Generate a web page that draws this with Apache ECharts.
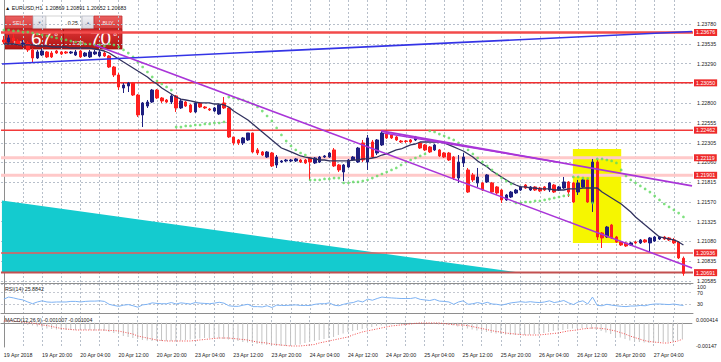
<!DOCTYPE html>
<html><head><meta charset="utf-8">
<script src="https://cdn.jsdelivr.net/npm/echarts@6/dist/echarts.min.js"></script>
<style>html,body{margin:0;padding:0;background:#fff}#c{width:721px;height:362px}</style>
</head><body><div id="c"></div>
<script>
// ---------- DATA ----------
const timeLabels = ['19 Apr 2018','19 Apr 20:00','20 Apr 04:00','20 Apr 12:00','20 Apr 20:00','23 Apr 04:00','23 Apr 12:00','23 Apr 20:00','24 Apr 04:00','24 Apr 12:00','24 Apr 20:00','25 Apr 04:00','25 Apr 12:00','25 Apr 20:00','26 Apr 04:00','26 Apr 12:00','26 Apr 20:00','27 Apr 04:00'];
const timeLabelBars = [0,8,16,24,32,40,48,56,64,72,80,88,96,104,112,120,128,136];
const gridBars = [0,4,8,12,16,20,24,28,32,36,40,44,48,52,56,60,64,68,72,76,80,84,88,92,96,100,104,108,112,116,120,124,128,132,136,140];
const priceGridTicks = [1.23780,1.23535,1.23290,1.23050,1.22800,1.22555,1.22305,1.22060,1.21815,1.21570,1.21325,1.21080,1.20835,1.20585];
const priceLabelTicks = [1.23780,1.23535,1.23290,1.22800,1.22555,1.22305,1.22060,1.21815,1.21570,1.21325,1.21080,1.20835,1.20585];
const rsiTicks = [100,70,30,0];
const macdTicks = [0.000414,-0.001471];

// hourly candles [open, close, low, high]
const candles = [
[1.23583,1.23558,1.23533,1.23633],[1.23558,1.23608,1.23533,1.23645],[1.23608,1.23570,1.23545,1.23657],[1.23570,1.23533,1.23508,1.23595],[1.23533,1.23545,1.23496,1.23583],
[1.23545,1.23459,1.23434,1.23570],[1.23459,1.23359,1.23297,1.23483],[1.23359,1.23434,1.23347,1.23459],[1.23396,1.23446,1.23384,1.23471],[1.23434,1.23372,1.23359,1.23446],
[1.23421,1.23372,1.23359,1.23446],[1.23446,1.23421,1.23409,1.23459],[1.23434,1.23409,1.23396,1.23446],[1.23434,1.23421,1.23409,1.23446],[1.23421,1.23434,1.23409,1.23446],
[1.23396,1.23434,1.23384,1.23459],[1.23446,1.23372,1.23359,1.23459],[1.23384,1.23421,1.23372,1.23434],[1.23372,1.23434,1.23359,1.23459],[1.23409,1.23434,1.23396,1.23459],
[1.23384,1.23434,1.23372,1.23459],[1.23421,1.23384,1.23372,1.23446],[1.23384,1.23247,1.23235,1.23396],[1.23247,1.23148,1.23123,1.23260],[1.23148,1.22999,1.22961,1.23173],
[1.22986,1.23023,1.22924,1.23048],[1.23011,1.23048,1.22936,1.23061],[1.23048,1.22899,1.22887,1.23061],[1.22899,1.22651,1.22626,1.22912],[1.22651,1.22800,1.22501,1.22812],
[1.22762,1.22812,1.22738,1.22837],[1.22812,1.22961,1.22800,1.22974],[1.22961,1.22862,1.22849,1.22974],[1.22862,1.22825,1.22800,1.22874],[1.22837,1.22812,1.22800,1.22849],
[1.22812,1.22887,1.22787,1.22912],[1.22887,1.22738,1.22688,1.22899],[1.22738,1.22825,1.22725,1.22849],[1.22812,1.22762,1.22750,1.22825],[1.22775,1.22688,1.22675,1.22787],
[1.22688,1.22800,1.22675,1.22812],[1.22800,1.22750,1.22738,1.22812],[1.22750,1.22738,1.22725,1.22762],[1.22725,1.22713,1.22700,1.22738],[1.22700,1.22738,1.22688,1.22750],
[1.22663,1.22775,1.22651,1.22787],[1.22800,1.22738,1.22725,1.22874],[1.22738,1.22377,1.22365,1.22750],[1.22377,1.22303,1.22278,1.22377],[1.22340,1.22303,1.22278,1.22352],
[1.22303,1.22365,1.22278,1.22377],[1.22340,1.22427,1.22327,1.22427],[1.22427,1.22191,1.22178,1.22427],[1.22216,1.22178,1.22153,1.22240],[1.22191,1.22153,1.22141,1.22203],
[1.22128,1.22191,1.22116,1.22203],[1.22178,1.22017,1.22004,1.22191],[1.22029,1.22128,1.21992,1.22153],[1.22066,1.22079,1.22054,1.22091],[1.22079,1.22091,1.22066,1.22104],
[1.22079,1.22091,1.22066,1.22104],[1.22079,1.22104,1.22066,1.22116],[1.22091,1.22066,1.22054,1.22104],[1.22091,1.22054,1.22041,1.22104],[1.22116,1.22066,1.21843,1.22128],
[1.22054,1.22116,1.22041,1.22128],[1.22066,1.22128,1.22054,1.22141],[1.22128,1.22141,1.22116,1.22153],[1.22128,1.22178,1.22116,1.22191],[1.22216,1.22017,1.22004,1.22240],
[1.22029,1.21967,1.21942,1.22041],[1.21942,1.22029,1.21830,1.22041],[1.22004,1.22091,1.21992,1.22104],[1.22091,1.22128,1.22079,1.22141],[1.22066,1.22240,1.22054,1.22253],
[1.22303,1.22091,1.22066,1.22340],[1.22066,1.22365,1.21967,1.22402],[1.22315,1.22128,1.22116,1.22340],[1.22178,1.22340,1.22153,1.22352],[1.22278,1.22427,1.22265,1.22452],
[1.22427,1.22365,1.22352,1.22452],[1.22402,1.22365,1.22352,1.22415],[1.22377,1.22340,1.22327,1.22390],[1.22327,1.22315,1.22303,1.22340],[1.22327,1.22321,1.22303,1.22340],
[1.22340,1.22315,1.22303,1.22352],[1.22340,1.22377,1.22327,1.22390],[1.22303,1.22240,1.22228,1.22315],[1.22278,1.22216,1.22203,1.22290],[1.22253,1.22191,1.22178,1.22265],
[1.22216,1.22278,1.22203,1.22290],[1.22216,1.22141,1.22128,1.22228],[1.22178,1.22128,1.22116,1.22191],[1.22178,1.22091,1.22079,1.22191],[1.22128,1.21867,1.21843,1.22141],
[1.21867,1.22066,1.21805,1.22153],[1.22054,1.22128,1.22004,1.22178],[1.21967,1.21693,1.21681,1.21992],[1.21905,1.21843,1.21818,1.21930],[1.21806,1.21880,1.21756,1.21992],
[1.21806,1.21718,1.21706,1.21818],[1.21818,1.21905,1.21805,1.21917],[1.21806,1.21693,1.21681,1.21818],[1.21756,1.21681,1.21656,1.21768],[1.21718,1.21594,1.21557,1.21731],
[1.21594,1.21656,1.21582,1.21669],[1.21631,1.21693,1.21619,1.21706],[1.21681,1.21718,1.21669,1.21731],[1.21718,1.21756,1.21706,1.21768],[1.21780,1.21743,1.21731,1.21793],
[1.21718,1.21756,1.21706,1.21768],[1.21756,1.21718,1.21706,1.21768],[1.21743,1.21706,1.21693,1.21756],[1.21756,1.21718,1.21706,1.21768],[1.21718,1.21806,1.21693,1.21818],
[1.21780,1.21693,1.21681,1.21793],[1.21718,1.21756,1.21706,1.21768],[1.21743,1.21818,1.21731,1.21880],[1.21818,1.21693,1.21631,1.21830],[1.21806,1.21569,1.21557,1.21818],
[1.21693,1.21806,1.21656,1.21843],[1.21756,1.21843,1.21743,1.21855],[1.21843,1.21569,1.21557,1.21855],[1.21557,1.22066,1.21445,1.22104],[1.22066,1.21134,1.21097,1.22091],
[1.21184,1.21122,1.20997,1.21196],[1.21134,1.21258,1.21122,1.21271],[1.21283,1.21122,1.21109,1.21296],[1.21134,1.21072,1.21060,1.21147],[1.21072,1.21035,1.21022,1.21084],
[1.21060,1.21022,1.21010,1.21072],[1.21035,1.21060,1.21022,1.21072],[1.21072,1.21060,1.21047,1.21084],[1.21060,1.21097,1.21047,1.21109],[1.21097,1.21072,1.21060,1.21109],
[1.21060,1.21122,1.20948,1.21134],[1.21084,1.21134,1.21072,1.21147],[1.21109,1.21134,1.21097,1.21147],[1.21134,1.21109,1.21097,1.21147],[1.21122,1.21097,1.21084,1.21134],
[1.21097,1.21060,1.21047,1.21122],[1.21072,1.20873,1.20860,1.21084],[1.20869,1.20683,1.20652,1.20891]
];
const ma = [
1.23533,1.23533,1.23533,1.23521,1.23521,1.23521,1.23521,1.23508,1.23508,1.23508,1.23496,1.23496,1.23496,1.23496,1.23483,1.23483,1.23483,
1.23483,1.23483,1.23471,1.23459,1.23446,1.23421,1.23384,1.23347,1.23309,1.23272,
1.23235,1.23197,1.23160,1.23123,1.23073,1.23036,1.22986,1.22949,1.22912,1.22874,
1.22849,1.22837,1.22825,1.22812,1.22800,1.22800,1.22800,1.22787,1.22787,1.22775,
1.22750,1.22700,1.22663,1.22626,1.22588,1.22539,1.22489,1.22439,1.22390,1.22340,
1.22290,1.22240,1.22216,1.22191,1.22166,1.22141,1.22128,1.22116,1.22104,1.22091,
1.22091,1.22079,1.22079,1.22079,1.22079,1.22079,1.22091,1.22091,1.22104,1.22104,
1.22116,1.22128,1.22153,1.22166,1.22191,1.22216,1.22228,1.22253,1.22278,1.22290,
1.22315,1.22315,1.22315,1.22315,1.22315,1.22303,1.22278,1.22253,1.22228,1.22203,
1.22166,1.22128,1.22079,1.22041,1.22004,1.21955,1.21917,1.21880,1.21843,1.21806,
1.21780,1.21756,1.21756,1.21743,1.21743,1.21731,1.21731,1.21731,1.21718,1.21718,
1.21718,1.21731,1.21731,1.21731,1.21743,1.21743,1.21743,1.21743,1.21693,1.21656,
1.21619,1.21582,1.21544,1.21495,1.21445,1.21383,1.21333,1.21283,1.21234,1.21184,
1.21134,1.21122,1.21109,1.21097,1.21072,1.21035
];
const sar = [
1.23707,1.23707,1.23695,1.23695,1.23682,1.23682,
1.23670,1.23657,1.23645,1.23633,1.23620,1.23608,1.23595,1.23583,1.23570,1.23558,1.23545,1.23533,1.23533,1.23521,1.23521,1.23508,
1.23533,1.23521,1.23496,1.23459,1.23421,1.23372,1.23309,1.23247,1.23185,1.23123,1.23073,1.23036,1.22999,1.22961,
1.22501,1.22501,1.22514,1.22514,1.22526,1.22526,1.22539,1.22539,1.22551,1.22551,1.22564,
1.22874,1.22862,1.22849,1.22837,1.22812,1.22787,1.22750,1.22700,1.22638,1.22576,1.22489,1.22402,1.22327,1.22265,1.22216,1.22178,1.22153,
1.21843,1.21843,1.21843,1.21855,1.21855,1.21867,1.21867,
1.21806,1.21806,1.21818,1.21818,1.21830,1.21843,1.21867,1.21892,1.21917,1.21942,1.21967,1.21992,1.22029,1.22066,1.22091,1.22116,1.22141,1.22166,
1.22452,1.22439,1.22414,1.22390,1.22365,1.22340,1.22303,1.22265,1.22216,1.22166,1.22116,1.22066,1.22017,1.21967,1.21917,1.21867,1.21830,1.21793,
1.21557,1.21557,1.21569,1.21569,1.21582,1.21582,1.21594,1.21606,1.21619,1.21631,1.21644,1.21656,
1.21880,1.21880,1.21867,1.21861,
1.21557,
1.22104,1.22104,1.22091,1.22079,1.22054,1.21967,1.21892,1.21843,1.21806,1.21768,1.21731,1.21693,1.21644,1.21594,1.21544,1.21507,1.21470,1.21432,1.21383
];
const rsi = [
48,55,52,48,45,38,32,38,42,38, 37,38,38,38,40,40,38,40,41,41,
42,40,30,26,23,27,29,25,20,28, 30,35,33,32,32,36,31,35,33,31,
36,34,33,32,34,37,34,25,23,23, 27,30,22,22,21,25,19,27,26,26,
27,28,26,26,26,30,32,32,35,27, 25,30,34,36,42,38,48,44,50,55,
53,52,51,50,50,50,53,47,45,43, 47,41,40,38,30,38,42,30,32,36,
32,37,31,30,27,31,35,37,39,37, 39,37,36,38,42,36,39,43,35,29,
38,42,31,55,26,25,30,27,25,23, 22,24,24,26,25,29,31,31,30,29,
31,28,25.8842
];
const macdMain = [
0.000080,0.000049,0.000019,-0.000012,-0.000072,-0.000133,-0.000164,-0.000224,-0.000285,-0.000346,
-0.000376,-0.000407,-0.000437,-0.000437,-0.000437,-0.000437,-0.000437,-0.000437,-0.000437,-0.000468,
-0.000468,-0.000498,-0.000559,-0.000620,-0.000680,-0.000802,-0.000863,-0.000924,-0.000984,-0.001045,
-0.001076,-0.001106,-0.001106,-0.001106,-0.001106,-0.001106,-0.001106,-0.001076,-0.001045,-0.001015,
-0.000984,-0.000954,-0.000924,-0.000924,-0.000924,-0.000954,-0.000984,-0.001015,-0.001045,-0.001106,
-0.001167,-0.001197,-0.001228,-0.001288,-0.001319,-0.001349,-0.001380,-0.001410,-0.001410,-0.001410,
-0.001380,-0.001349,-0.001319,-0.001228,-0.001167,-0.001106,-0.001045,-0.000984,-0.000924,-0.000863,
-0.000741,-0.000650,-0.000559,-0.000498,-0.000437,-0.000376,-0.000316,-0.000255,-0.000194,-0.000164,
-0.000133,-0.000103,-0.000072,-0.000042,-0.000012,-0.000012,-0.000012,-0.000012,-0.000012,-0.000042,
-0.000072,-0.000103,-0.000133,-0.000133,-0.000164,-0.000224,-0.000285,-0.000346,-0.000407,-0.000468,
-0.000528,-0.000559,-0.000620,-0.000650,-0.000680,-0.000711,-0.000741,-0.000741,-0.000741,-0.000741,
-0.000711,-0.000680,-0.000650,-0.000620,-0.000559,-0.000498,-0.000468,-0.000437,-0.000376,-0.000346,
-0.000316,-0.000316,-0.000346,-0.000376,-0.000437,-0.000498,-0.000589,-0.000680,-0.000802,-0.000893,
-0.000984,-0.001076,-0.001136,-0.001167,-0.001197,-0.001228,-0.001228,-0.001197,-0.001167,-0.001167,
-0.001106,-0.001045,-0.001007
];
const macdSignal = [
0.000110,0.000110,0.000110,0.000080,0.000049,0.000019,-0.000012,-0.000072,-0.000133,-0.000164,
-0.000224,-0.000285,-0.000346,-0.000376,-0.000407,-0.000437,-0.000437,-0.000437,-0.000437,-0.000437,
-0.000437,-0.000437,-0.000468,-0.000468,-0.000498,-0.000559,-0.000620,-0.000680,-0.000802,-0.000863,
-0.000924,-0.000984,-0.001045,-0.001076,-0.001106,-0.001106,-0.001106,-0.001106,-0.001106,-0.001106,
-0.001076,-0.001045,-0.001015,-0.000984,-0.000954,-0.000924,-0.000924,-0.000924,-0.000954,-0.000984,
-0.001015,-0.001045,-0.001106,-0.001167,-0.001197,-0.001228,-0.001288,-0.001319,-0.001349,-0.001380,
-0.001410,-0.001410,-0.001410,-0.001380,-0.001349,-0.001319,-0.001228,-0.001167,-0.001106,-0.001045,
-0.000984,-0.000924,-0.000863,-0.000741,-0.000650,-0.000559,-0.000498,-0.000437,-0.000376,-0.000316,
-0.000255,-0.000194,-0.000164,-0.000133,-0.000103,-0.000072,-0.000042,-0.000012,-0.000012,-0.000012,
-0.000012,-0.000012,-0.000042,-0.000072,-0.000103,-0.000133,-0.000133,-0.000164,-0.000224,-0.000285,
-0.000346,-0.000407,-0.000468,-0.000528,-0.000559,-0.000620,-0.000650,-0.000680,-0.000711,-0.000741,
-0.000741,-0.000741,-0.000741,-0.000711,-0.000680,-0.000650,-0.000620,-0.000559,-0.000498,-0.000468,
-0.000437,-0.000376,-0.000346,-0.000316,-0.000316,-0.000346,-0.000376,-0.000437,-0.000498,-0.000589,
-0.000680,-0.000802,-0.000893,-0.000984,-0.001076,-0.001136,-0.001167,-0.001197,-0.001228,-0.001228,
-0.001167,-0.001106,-0.001004
];
// horizontal price levels
const hLinePrices = [1.23676,1.23050,1.22462,1.22119,1.21901,1.20936,1.20691];
// trend lines / objects: [bar, price]
const blueLine = [[-0.4,1.23284],[143.8,1.23688]];
const purpleLine1 = [[19.0,1.23521],[143.8,1.20749]];
const purpleLine2 = [[78.8,1.22452],[143.8,1.21768]];
const purpleLine3 = [[79.4,1.22427],[116.2,1.22060]];
const yellowBoxBars = [118.9,129.0];
const yellowBoxPrices = [1.21060,1.22228];
const cyanTriangle = [[-0.4,1.21588],[-0.4,1.20691],[107.8,1.20691]];

// ---------- CHART ----------
const FONT = 'Liberation Sans';
const FS = 5.3;
const X_MIN = -0.6, X_MAX = 144;
const gridLine = {show:true, lineStyle:{color:'#b7bfca', width:1, type:[2,2]}};
const frame = {show:true, lineStyle:{color:'#8e8e8e', width:1}};
const hLineStyles = [
  {color:'#f24b4b', width:2.5},
  {color:'#f23030', width:1.5},
  {color:'#f23a3a', width:1.5},
  {color:'#ffc9c9', width:3},
  {color:'#ffc9c9', width:3},
  {color:'#e85a5a', width:1.5},
  {color:'#c25050', width:2}
];
function xAx(gi, labels){
  return {type:'value', gridIndex:gi, min:X_MIN, max:X_MAX,
    axisLine:frame,
    axisTick:{show:false, customValues:gridBars},
    axisLabel:{show:labels, customValues:timeLabelBars, align:'left', margin:5, fontSize:FS, color:'#222', fontFamily:FONT,
      formatter:v=>timeLabels[timeLabelBars.indexOf(Math.round(v))]},
    splitLine:gridLine};
}
function poly(points, color, z){
  return {type:'custom', xAxisIndex:0, yAxisIndex:0, z:z, silent:true, clip:true,
    data:[points[0]],
    renderItem:(params, api)=>({type:'polygon', shape:{points:points.map(p=>api.coord(p))}, style:{fill:color}})};
}
function tline(pts, color, w){
  return {type:'line', xAxisIndex:0, yAxisIndex:0, data:pts, symbol:'none', silent:true, z:6,
    lineStyle:{color:color, width:w}};
}
const hLineSeries = hLinePrices.map((p,k)=>({
  type:'line', xAxisIndex:0, yAxisIndex:0, z:2, silent:true, symbol:'none', clip:false,
  data:[[X_MIN,p],[X_MAX,p]], lineStyle:hLineStyles[k],
  endLabel:{show:true, distance:1, formatter:()=>p.toFixed(5), backgroundColor:'#ee2b2b', color:'#ffffff',
    fontSize:FS, padding:[1,2,1,2], fontFamily:FONT}
}));
const yb = [[yellowBoxBars[0],yellowBoxPrices[0]],[yellowBoxBars[1],yellowBoxPrices[0]],[yellowBoxBars[1],yellowBoxPrices[1]],[yellowBoxBars[0],yellowBoxPrices[1]]];

const gradRed = new echarts.graphic.LinearGradient(0,0,0,1,[{offset:0,color:'#dc3434'},{offset:1,color:'#b01616'}]);
const gradBtn = new echarts.graphic.LinearGradient(0,0,0,1,[{offset:0,color:'#ea6060'},{offset:1,color:'#d63c3c'}]);
const gradGray = new echarts.graphic.LinearGradient(0,0,0,1,[{offset:0,color:'#f2f2f6'},{offset:1,color:'#d4d6de'}]);
const lab = {fontSize:FS, color:'#222', fontFamily:FONT};

const option = {
  animation:false,
  backgroundColor:'#ffffff',
  textStyle:{fontFamily:FONT},
  grid:[
    {left:1, right:28, top:0, height:283},
    {left:1, right:28, top:284, height:29},
    {left:1, right:28, top:316, height:31}
  ],
  xAxis:[xAx(0,false), xAx(1,false), xAx(2,true)],
  yAxis:[
    {type:'value', gridIndex:0, position:'right', min:1.20562, max:1.24080,
      axisLine:frame, axisTick:{show:false, customValues:priceGridTicks},
      axisLabel:{customValues:priceLabelTicks, formatter:v=>v.toFixed(5), fontSize:FS, color:'#222', margin:4, fontFamily:FONT},
      splitLine:gridLine},
    {type:'value', gridIndex:1, position:'right', min:0, max:100,
      axisLine:frame, axisTick:{show:false, customValues:rsiTicks},
      axisLabel:{customValues:rsiTicks, margin:4, fontSize:FS, color:'#222', fontFamily:FONT,
        formatter:v=>v===100?'{t|100}':(v===0?'{b|0}':String(v)),
        rich:{t:Object.assign({padding:[6,0,0,0]},lab), b:Object.assign({padding:[0,0,10,0]},lab)}},
      splitLine:{show:true, lineStyle:{color:'#c4c8d0', width:1, type:[2,2]}}},
    {type:'value', gridIndex:2, position:'right', min:-0.001471, max:0.000414,
      axisLine:frame, axisTick:{show:false, customValues:macdTicks},
      axisLabel:{customValues:macdTicks, margin:4, fontSize:FS, color:'#222', fontFamily:FONT,
        formatter:v=>(v>0?'{t|'+v.toFixed(6)+'}':'{b|'+v.toFixed(5)+'}'),
        rich:{t:Object.assign({padding:[8,0,0,0]},lab), b:Object.assign({padding:[0,0,3,0]},lab)}},
      splitLine:{show:false}}
  ],
  series:[
    poly(cyanTriangle, '#14cbcf', 1),
    poly(yb, '#f6f600', 1),
    ...hLineSeries,
    {type:'candlestick', xAxisIndex:0, yAxisIndex:0, z:3, silent:true, barWidth:3,
      data:candles.map((c,i)=>[i,c[0],c[1],c[2],c[3]]), encode:{x:0, y:[1,2,3,4]},
      itemStyle:{color:'#1f1f80', color0:'#ff1f1f', borderColor:'#1f1f80', borderColor0:'#ff1f1f', borderWidth:1}},
    {type:'line', xAxisIndex:0, yAxisIndex:0, z:4, silent:true, symbol:'none',
      data:ma.map((v,i)=>[i,v]), lineStyle:{color:'#32325f', width:1.3}},
    {type:'scatter', xAxisIndex:0, yAxisIndex:0, z:4, silent:true, symbol:'circle', symbolSize:2.7,
      data:sar.map((v,i)=>[i,v]), itemStyle:{color:'#5fda5f'}},
    tline(blueLine, '#3434e6', 1.6),
    tline(purpleLine1, '#a935d8', 1.6),
    tline(purpleLine2, '#a935d8', 1.8),
    tline(purpleLine3, '#a935d8', 1.4),
    {type:'line', xAxisIndex:1, yAxisIndex:1, symbol:'none', silent:true,
      data:rsi.map((v,i)=>[i,v]), lineStyle:{color:'#7db2f3', width:1}},
    {type:'bar', xAxisIndex:2, yAxisIndex:2, silent:true, barWidth:1,
      data:macdMain.map((v,i)=>[i,v]), itemStyle:{color:'#c3c3c3'}},
    {type:'line', xAxisIndex:2, yAxisIndex:2, symbol:'none', silent:true, z:3,
      data:macdSignal.map((v,i)=>[i,v]), lineStyle:{color:'#f04a4a', width:1, type:[1,1.5]}}
  ],
  graphic:[
    {type:'text', x:5, y:5, z:50, style:{text:'\u25B2 EURUSD,H1  1.20869 1.20891 1.20652 1.20683', fontSize:FS, fill:'#111', fontFamily:FONT}},
    {type:'text', x:5, y:286, z:50, style:{text:'RSI(14) 25.8842', fontSize:FS, fill:'#222', fontFamily:FONT}},
    {type:'text', x:5, y:317, z:50, style:{text:'MACD(12,26,9) -0.001007 -0.001004', fontSize:FS, fill:'#222', fontFamily:FONT}},
    {type:'group', z:100, children:[
      {type:'rect', shape:{x:5,y:16,width:28,height:13}, style:{fill:gradBtn, stroke:'#c23030', lineWidth:0.8}},
      {type:'text', x:19, y:22.5, style:{text:'SELL', fontSize:FS, fill:'#ffe8e8', align:'center', verticalAlign:'middle', fontFamily:FONT}},
      {type:'rect', shape:{x:33,y:16,width:13,height:13}, style:{fill:gradGray, stroke:'#b4b6c0', lineWidth:0.8}},
      {type:'text', x:39.5, y:22.5, style:{text:'\u25BC', fontSize:4, fill:'#6c7aa0', align:'center', verticalAlign:'middle'}},
      {type:'rect', shape:{x:46,y:16,width:36,height:13}, style:{fill:'#ffffff', stroke:'#c8c8c8', lineWidth:0.8}},
      {type:'text', x:78, y:22.5, style:{text:'0.25', fontSize:FS, fill:'#111', align:'right', verticalAlign:'middle', fontFamily:FONT}},
      {type:'rect', shape:{x:82,y:16,width:12,height:13}, style:{fill:gradGray, stroke:'#b4b6c0', lineWidth:0.8}},
      {type:'text', x:88, y:22.5, style:{text:'\u25B2', fontSize:4, fill:'#6c7aa0', align:'center', verticalAlign:'middle'}},
      {type:'rect', shape:{x:94,y:16,width:28,height:13}, style:{fill:gradBtn, stroke:'#c23030', lineWidth:0.8}},
      {type:'text', x:108, y:22.5, style:{text:'BUY', fontSize:FS, fill:'#ffe8e8', align:'center', verticalAlign:'middle', fontFamily:FONT}},
      {type:'rect', shape:{x:5,y:29,width:58.5,height:20}, style:{fill:gradRed, stroke:'#9e1010', lineWidth:0.8}},
      {type:'rect', shape:{x:63.5,y:29,width:58.5,height:20}, style:{fill:gradRed, stroke:'#9e1010', lineWidth:0.8}},
      {type:'text', x:13, y:45.5, style:{text:'1.20', fontSize:6, fill:'#fff', verticalAlign:'bottom', fontFamily:FONT}},
      {type:'text', x:31, y:48, style:{text:'67', fontSize:19, fill:'#fff', verticalAlign:'bottom', fontFamily:FONT}},
      {type:'text', x:54.5, y:31, style:{text:'8', fontSize:6, fill:'#fff', verticalAlign:'top', fontFamily:FONT}},
      {type:'text', x:72, y:45.5, style:{text:'1.20', fontSize:6, fill:'#fff', verticalAlign:'bottom', fontFamily:FONT}},
      {type:'text', x:90, y:48, style:{text:'70', fontSize:19, fill:'#fff', verticalAlign:'bottom', fontFamily:FONT}},
      {type:'text', x:113.5, y:31, style:{text:'8', fontSize:6, fill:'#fff', verticalAlign:'top', fontFamily:FONT}}
    ]}
  ]
};
const chart = echarts.init(document.getElementById('c'), null, {renderer:'svg', width:721, height:362});
chart.setOption(option);
</script>
</body></html>
